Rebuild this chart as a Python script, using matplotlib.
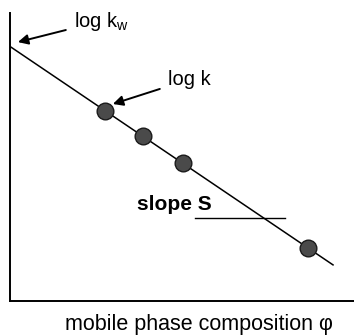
import numpy as np
import matplotlib
matplotlib.use('Agg')
import matplotlib.pyplot as plt

plt.rcParams['font.family'] = ['Liberation Sans', 'DejaVu Sans']

# retention data (axes scaled 0..1)
phi = [0.276, 0.387, 0.503, 0.866]
log_k = [0.660, 0.572, 0.478, 0.184]

# linear fit log k = log kw - S * phi
coef = np.polyfit(phi, log_k, 1)
phi_line = np.array([0.0, 0.939])
log_k_line = np.polyval(coef, phi_line)

fig = plt.figure(figsize=(3.54, 3.36), dpi=100)
ax = fig.add_axes([10 / 354, 35 / 336, 344 / 354, 288 / 336])

ax.plot(phi_line, log_k_line, color='black', lw=1.1)
ax.plot(phi, log_k, 'o', ms=12, mfc='#4a4a4a', mec='#1a1a1a', mew=1.0)

# annotations
ax.annotate('log k$_\\mathregular{w}$', xy=(0.023, 0.899), xytext=(0.186, 0.953),
            fontsize=14.5, va='baseline', ha='left',
            arrowprops=dict(arrowstyle='-|>', color='black', lw=1.4,
                            mutation_scale=15, shrinkA=4, shrinkB=0))
ax.annotate('log k', xy=(0.299, 0.684), xytext=(0.459, 0.75),
            fontsize=14.5, va='baseline', ha='left',
            arrowprops=dict(arrowstyle='-|>', color='black', lw=1.4,
                            mutation_scale=15, shrinkA=4, shrinkB=0))
ax.text(0.369, 0.316, 'slope S', fontsize=15, fontweight='bold', va='baseline')
ax.plot([0.538, 0.80], [0.288, 0.288], color='black', lw=1.0)

ax.set_xlim(0, 1)
ax.set_ylim(0, 1)
ax.set_xticks([])
ax.set_yticks([])
for side in ['top', 'right']:
    ax.spines[side].set_visible(False)
for side in ['left', 'bottom']:
    ax.spines[side].set_linewidth(1.4)

fig.text(199 / 354, 1 - 314 / 336, 'mobile phase composition φ',
         fontsize=15.5, ha='center', va='top')

fig.savefig('out.png', dpi=100)
